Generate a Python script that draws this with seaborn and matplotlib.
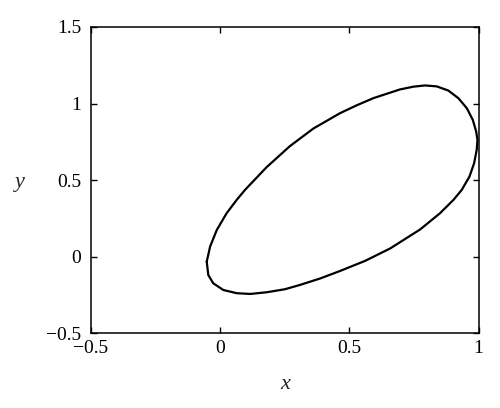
import matplotlib
matplotlib.use("Agg")
import matplotlib.pyplot as plt
import seaborn as sns
import pandas as pd

# points (traced clockwise from the leftmost point)
x_vals = [-0.052, -0.039, -0.013, 0.025, 0.064, 0.096, 0.180, 0.270, 0.361, 0.464,
          0.528, 0.593, 0.696, 0.748, 0.793, 0.838, 0.883, 0.922, 0.955, 0.978,
          0.991, 0.996, 0.993, 0.983, 0.965, 0.935, 0.903, 0.851, 0.774, 0.658,
          0.561, 0.464, 0.387, 0.309, 0.251, 0.180, 0.116, 0.064, 0.012, -0.027,
          -0.046, -0.052]
y_vals = [-0.032, 0.066, 0.175, 0.284, 0.371, 0.436, 0.585, 0.722, 0.837, 0.937,
          0.988, 1.035, 1.092, 1.110, 1.118, 1.112, 1.085, 1.035, 0.969, 0.893,
          0.817, 0.762, 0.697, 0.610, 0.523, 0.436, 0.371, 0.284, 0.178, 0.054,
          -0.027, -0.093, -0.142, -0.184, -0.212, -0.232, -0.243, -0.238, -0.217, -0.173,
          -0.119, -0.032]
x_ticks = [-0.5, 0, 0.5, 1]
x_tick_labels = ["\u22120.5", "0", "0.5", "1"]
y_ticks = [-0.5, 0, 0.5, 1, 1.5]
y_tick_labels = ["\u22120.5", "0", "0.5", "1", "1.5"]

df = pd.DataFrame({"x": x_vals, "y": y_vals})

sns.set_style("ticks")
plt.rcParams["font.family"] = ["Liberation Serif", "DejaVu Serif"]

fig = plt.figure(figsize=(5, 4.08), dpi=100)
ax = fig.add_axes([0.182, 0.183, 0.775, 0.751])

sns.lineplot(data=df, x="x", y="y", sort=False, estimator=None, color="black",
             linewidth=1.6, ax=ax)
ax.lines[0].set_solid_joinstyle("round")

ax.set_xlim(-0.5, 1)
ax.set_ylim(-0.5, 1.5)
ax.set_xticks(x_ticks)
ax.set_xticklabels(x_tick_labels)
ax.set_yticks(y_ticks)
ax.set_yticklabels(y_tick_labels)
ax.tick_params(direction="in", length=4, width=1, top=True, right=True,
               labelsize=14, colors="black", pad=5)
ax.tick_params(axis="y", pad=7)
for s in ax.spines.values():
    s.set_linewidth(1.1)
    s.set_color("black")

ax.set_xlabel("x", fontsize=16, fontstyle="italic")
ax.set_ylabel("y", fontsize=16, fontstyle="italic", rotation=0, va="center")
ax.xaxis.set_label_coords(0.50, -0.136)
ax.yaxis.set_label_coords(-0.183, 0.491)

fig.savefig("out.png", dpi=100)
